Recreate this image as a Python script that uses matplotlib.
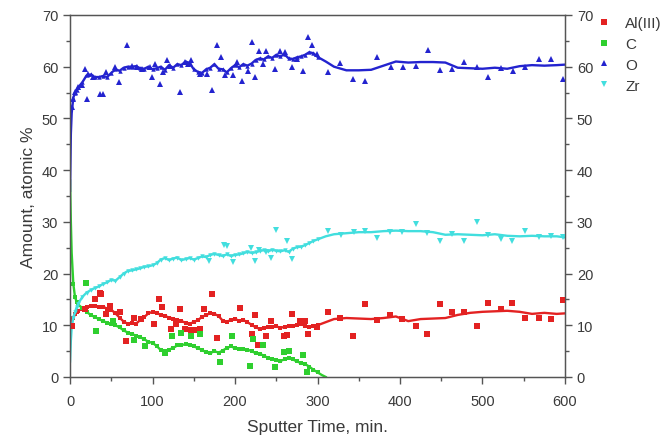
import numpy as np
import matplotlib
matplotlib.use("Agg")
import matplotlib.pyplot as plt
from matplotlib.ticker import MultipleLocator

plt.rcParams['font.family'] = ['Liberation Sans', 'DejaVu Sans']

# ---- smoothed depth profiles (sputter time in min, atomic %) ----
t_line = [0, 1, 2, 4, 6, 8, 10, 15, 20, 25, 30, 35, 40, 45, 50, 55, 60, 65, 70, 75,
          80, 85, 90, 95, 100, 105, 110, 115, 120, 125, 130, 135, 140, 145, 150,
          155, 160, 165, 170, 175, 180, 185, 190, 195, 200, 205, 210, 215, 220,
          225, 230, 235, 240, 245, 250, 255, 260, 265, 270, 275, 280, 285, 290,
          295, 300, 310, 320, 335, 350, 365, 380, 395, 410, 425, 440, 455, 470,
          485, 500, 515, 530, 545, 560, 575, 590, 600]

al_line = [9.8, 10.3, 10.8, 11.5, 12.2, 12.5, 12.8, 13.2, 13.5, 13.7, 13.8, 13.6,
           13.6, 13.2, 13.0, 12.3, 11.5, 10.7, 10.3, 10.4, 10.3, 11.0, 11.6, 12.3,
           12.6, 12.4, 12.0, 11.8, 11.5, 11.3, 11.0, 10.8, 10.5, 10.3, 10.6, 11.0,
           11.6, 12.0, 12.3, 12.2, 11.8, 10.9, 10.7, 11.0, 11.2, 10.9, 11.0, 10.6,
           10.1, 9.6, 9.3, 9.5, 9.7, 9.6, 9.8, 9.5, 9.7, 9.9, 9.8, 10.0, 10.2, 9.9,
           9.6, 9.8, 10.0, 10.6, 11.2, 11.4, 11.3, 11.2, 11.4, 11.7, 10.8, 11.2,
           11.3, 11.4, 12.0, 12.4, 12.6, 12.7, 12.8, 12.6, 12.2, 12.4, 12.2, 12.3]

o_line = [36.0, 47.0, 51.0, 54.0, 55.0, 55.5, 56.0, 57.0, 58.3, 58.5, 58.0, 58.0,
          58.2, 58.0, 58.8, 59.5, 59.2, 59.8, 60.0, 60.0, 60.1, 59.7, 59.6, 60.0,
          59.5, 59.7, 60.0, 59.4, 60.3, 59.8, 60.5, 60.3, 61.0, 60.7, 59.5, 59.0,
          58.8, 59.5, 59.8, 60.5, 59.6, 59.5, 58.9, 59.7, 60.3, 59.9, 60.5, 60.2,
          60.6, 61.3, 61.6, 61.4, 62.0, 61.7, 62.3, 62.0, 62.4, 61.6, 61.5, 61.8,
          62.0, 62.3, 62.8, 62.6, 61.9, 61.0, 60.0, 59.3, 59.3, 59.4, 60.2, 61.0,
          60.8, 60.9, 60.9, 60.8, 59.8, 59.7, 59.6, 59.8, 59.6, 60.1, 60.3, 60.2,
          60.3, 60.4]

zr_line = [3.0, 7.0, 9.5, 11.5, 12.5, 13.5, 14.2, 15.5, 16.3, 16.8, 17.2, 17.5,
           18.0, 18.3, 18.8, 18.6, 19.3, 20.0, 20.5, 20.6, 20.8, 21.0, 21.3, 21.4,
           21.6, 22.0, 22.7, 23.0, 22.6, 22.9, 23.1, 22.6, 22.8, 23.0, 22.7, 23.0,
           23.3, 23.2, 23.6, 23.8, 23.6, 23.4, 23.7, 23.4, 23.6, 23.7, 23.9, 24.2,
           24.0, 24.1, 24.4, 24.5, 24.3, 24.6, 24.4, 24.3, 24.5, 24.2, 24.8, 25.1,
           25.2, 25.5, 25.9, 26.3, 26.6, 27.2, 27.6, 27.8, 28.0, 28.0, 28.2, 28.3,
           28.2, 28.2, 28.0, 27.5, 27.6, 27.5, 27.4, 27.6, 27.3, 27.2, 27.3, 27.2,
           27.2, 27.0]

t_c_line = [0, 1, 2, 4, 6, 8, 10, 15, 20, 25, 30, 35, 40, 45, 50, 55, 60, 65, 70,
            75, 80, 85, 90, 95, 100, 105, 110, 115, 120, 125, 130, 135, 140, 145,
            150, 155, 160, 165, 170, 175, 180, 185, 190, 195, 200, 205, 210, 215,
            220, 225, 230, 235, 240, 245, 250, 255, 260, 265, 270, 275, 280, 285,
            290, 295, 300, 305, 310]

c_line = [38.0, 30.0, 24.0, 18.0, 15.5, 14.5, 14.0, 13.3, 12.6, 12.0, 11.6, 11.2,
          10.8, 10.5, 10.3, 10.0, 9.6, 9.0, 8.6, 8.3, 8.0, 7.7, 7.3, 6.8, 6.6, 6.0,
          5.2, 5.0, 5.3, 5.6, 6.1, 6.2, 6.3, 6.2, 5.9, 5.6, 5.2, 4.8, 4.6, 5.0, 4.7,
          5.1, 5.6, 5.9, 5.6, 5.5, 5.4, 5.3, 5.0, 4.6, 4.5, 4.1, 3.7, 3.4, 3.3, 3.1,
          3.4, 3.6, 3.4, 3.0, 2.7, 2.5, 2.0, 1.4, 0.9, 0.4, 0.0]

# ---- individual measurements scattered about the profiles ----
al_t = [2, 18, 30, 36, 38, 44, 48, 60, 68, 78, 86, 102, 108, 112, 122, 128, 133,
        139, 147, 150, 158, 162, 172, 178, 206, 220, 224, 228, 238, 244, 259, 263,
        269, 279, 285, 289, 299, 313, 327, 343, 357, 372, 388, 403, 419, 433, 448,
        463, 478, 493, 507, 522, 536, 552, 568, 583, 598]
al_v = [9.9, 13.1, 15.1, 16.2, 16.1, 12.2, 13.8, 12.5, 7.0, 11.5, 11.2, 10.2, 15.1,
        13.5, 9.3, 10.2, 13.1, 9.3, 9.0, 9.0, 9.3, 13.1, 16.1, 7.5, 13.3, 8.3, 11.9,
        6.2, 8.0, 10.9, 8.0, 8.1, 12.2, 10.9, 10.9, 8.3, 9.6, 12.5, 11.5, 8.0, 14.1,
        11.1, 11.9, 11.3, 9.9, 8.4, 14.1, 12.5, 12.5, 9.9, 14.3, 13.1, 14.3, 11.4,
        11.4, 11.2, 14.9]

c_t = [19, 32, 52, 77, 91, 115, 124, 135, 147, 158, 182, 196, 218, 222, 234, 248,
       259, 265, 283, 287]
c_v = [18.2, 8.9, 10.9, 7.2, 5.9, 4.6, 8.0, 8.6, 8.0, 8.3, 2.8, 7.9, 2.1, 7.3, 6.1,
       1.9, 4.9, 5.0, 4.3, 0.9]

o_t = [2, 4, 6, 10, 14, 18, 20, 22, 28, 36, 40, 44, 55, 59, 69, 75, 81, 87, 97, 99,
       103, 109, 113, 117, 121, 133, 139, 143, 147, 158, 166, 172, 178, 183, 188,
       198, 202, 208, 216, 220, 224, 229, 234, 238, 248, 255, 261, 269, 275, 283,
       289, 293, 299, 313, 327, 343, 357, 372, 389, 404, 419, 434, 448, 463, 478,
       493, 507, 522, 537, 552, 568, 583, 598]
o_v = [52.2, 53.8, 55.1, 56.0, 56.5, 59.6, 53.8, 58.6, 58.0, 54.7, 54.7, 58.9, 59.9,
       57.0, 64.1, 60.2, 59.9, 59.6, 59.9, 58.0, 60.5, 56.7, 58.9, 61.2, 60.2, 55.1,
       60.9, 60.5, 61.2, 58.6, 58.6, 55.4, 64.1, 61.8, 58.3, 58.3, 60.9, 57.3, 59.2,
       64.7, 58.0, 63.1, 60.5, 63.1, 59.6, 63.1, 62.8, 59.9, 61.5, 59.2, 65.7, 64.1,
       62.5, 58.9, 60.7, 57.6, 57.2, 61.8, 59.9, 59.9, 60.2, 63.3, 59.4, 59.6, 61.0,
       59.9, 58.1, 59.8, 59.1, 59.9, 61.5, 61.5, 57.6]

zr_t = [168, 187, 190, 197, 219, 224, 229, 238, 244, 250, 263, 269, 313, 329, 344,
        357, 372, 388, 403, 419, 433, 448, 463, 478, 493, 507, 522, 536, 552, 568,
        583, 598]
zr_v = [22.5, 25.5, 25.4, 22.2, 24.9, 22.5, 24.6, 24.1, 23.0, 28.5, 26.2, 22.8, 28.3,
        27.5, 28.1, 28.3, 26.9, 28.1, 28.1, 29.6, 27.9, 26.2, 27.7, 26.2, 29.9, 27.5,
        26.7, 26.2, 28.3, 27.0, 27.2, 27.0]

labels = ['Al(III)', 'C', 'O', 'Zr']
colors = ['#e32222', '#2fcf2f', '#2323cf', '#42dede']
markers = ['s', 's', '^', 'v']

fig = plt.figure(figsize=(6.65, 4.39), dpi=100)
ax = fig.add_axes([0.1053, 0.139, 0.7443, 0.8246])

profiles = [
    (t_line, al_line, al_t, al_v),
    (t_c_line, c_line, c_t, c_v),
    (t_line, o_line, o_t, o_v),
    (t_line, zr_line, zr_t, zr_v),
]

handles = []
for (tl, yl, tp, yp), col, mk, lab in zip(profiles, colors, markers, labels):
    tl = np.asarray(tl, float)
    # dense early section: every point carries a symbol on the curve
    dense = [i for i, tv in enumerate(tl) if 3 <= tv <= 300]
    ax.plot(tl, yl, color=col, lw=1.7, marker=mk, markersize=3.2,
            markevery=dense, markeredgewidth=0, zorder=2)
    ax.plot(tp, yp, linestyle='none', marker=mk, markersize=4.0, color=col,
            markeredgewidth=0, zorder=3)
    h, = ax.plot([], [], linestyle='none', marker=mk, markersize=4.5, color=col,
                 markeredgewidth=0)
    handles.append(h)

ax.set_xlim(0, 600)
ax.set_ylim(0, 70)
ax.xaxis.set_major_locator(MultipleLocator(100))
ax.xaxis.set_minor_locator(MultipleLocator(50))
ax.yaxis.set_major_locator(MultipleLocator(10))
ax.yaxis.set_minor_locator(MultipleLocator(5))

axis_col = '#555555'
text_col = '#3a3a3a'
for sp in ax.spines.values():
    sp.set_color(axis_col)
    sp.set_linewidth(1.0)

ax.tick_params(axis='both', which='major', direction='out', length=5, width=1,
               color=axis_col, labelcolor=text_col, labelsize=10.5)
ax.tick_params(axis='x', which='major', pad=7)
ax.tick_params(axis='both', which='minor', direction='out', length=3, width=1,
               color=axis_col)
ax.tick_params(axis='x', which='both', top=False)

ax2 = ax.twinx()
ax2.set_ylim(0, 70)
ax2.yaxis.set_major_locator(MultipleLocator(10))
ax2.yaxis.set_minor_locator(MultipleLocator(5))
ax2.tick_params(axis='y', which='major', direction='out', length=5, width=1,
                color=axis_col, labelcolor=text_col, labelsize=10.5)
ax2.tick_params(axis='y', which='minor', direction='out', length=3, width=1,
                color=axis_col)
for sp in ax2.spines.values():
    sp.set_color(axis_col)

ax.set_xlabel('Sputter Time, min.', fontsize=12.5, color=text_col, labelpad=8)
ax.set_ylabel('Amount, atomic %', fontsize=12.5, color=text_col, labelpad=4)

fig.legend(handles, labels, loc='upper left', bbox_to_anchor=(0.89, 0.975),
           frameon=False, fontsize=11, handlelength=0.8, handletextpad=1.0,
           labelspacing=0.45, labelcolor=text_col, borderaxespad=0)

fig.savefig('out.png', dpi=100)
